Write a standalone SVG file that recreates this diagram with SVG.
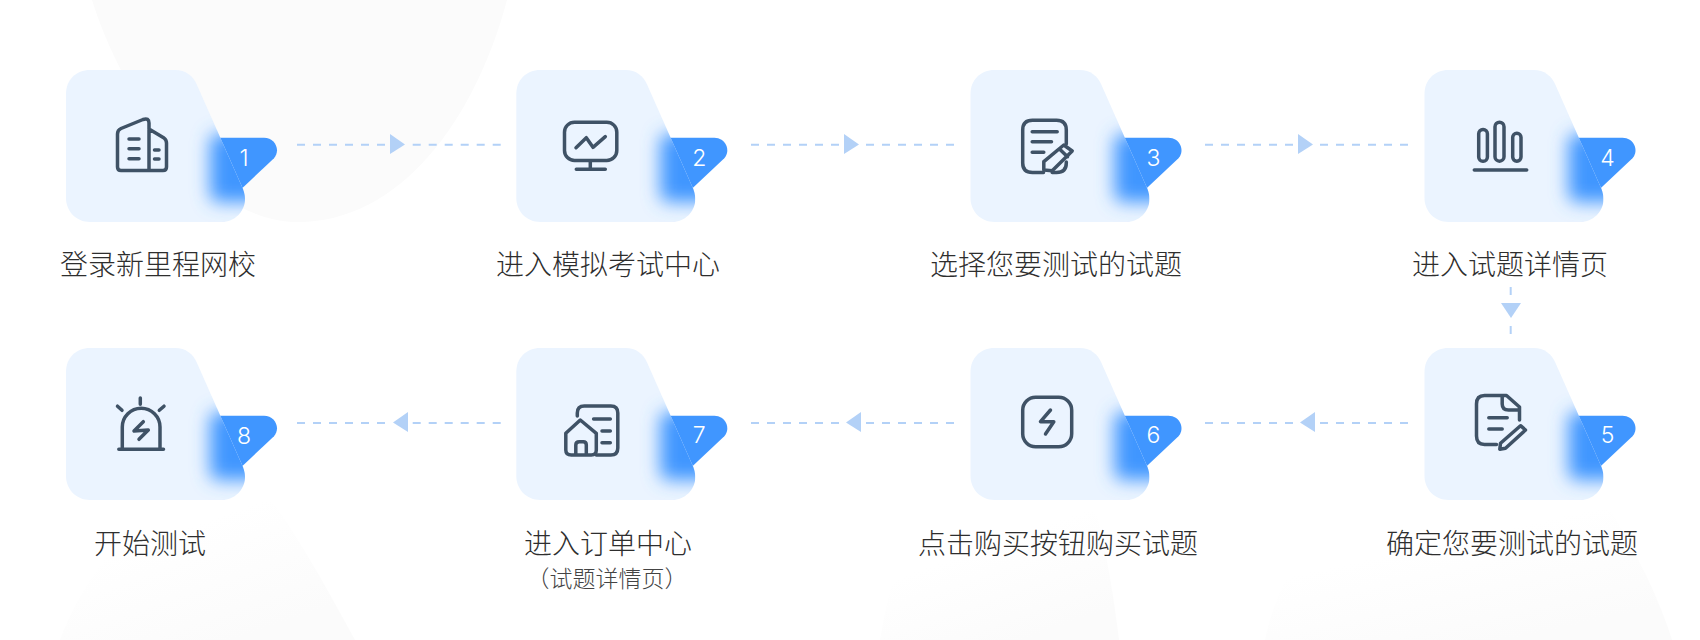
<svg xmlns="http://www.w3.org/2000/svg" width="1700" height="640" viewBox="0 0 1700 640">
<style>
.lbl{font-family:"Noto Sans CJK SC","Noto Sans",sans-serif;font-weight:300;font-size:28px;fill:#2e2e2e;text-anchor:middle}
.sub{font-size:23px;fill:#444}
.num{font-family:"Inter","Noto Sans",sans-serif;font-weight:300;font-size:23px;fill:#fff;text-anchor:middle}
.ic{fill:none;stroke:#3f5266;stroke-width:3.5;stroke-linecap:round;stroke-linejoin:round}
.dash{fill:none;stroke:#b3d1f7;stroke-width:2;stroke-dasharray:8 8}
.head{fill:#b3d1f7}
.card{fill:#ebf4ff}
.flag{fill:#4096ff}
.blob{fill:#4096ff}
</style>
<defs>
<linearGradient id="fadeB" x1="0" y1="0" x2="0.6" y2="1"><stop offset="0" stop-color="#fff"/><stop offset="0.45" stop-color="#fff"/><stop offset="1" stop-color="#fbfbfb"/></linearGradient>
<path id="cardShape" d="M24 0H109C120 0 127 6 131 15L177 119C178 122 179 125 179 129C179 142 168 152 156 152H24C10 152 0 141 0 128V24C0 10 10 0 24 0Z"/>
<path id="flagShape" d="M150 67.7H198C209 67.7 215 80 208 88.3L170 124Z"/>
<clipPath id="cardClip"><use href="#cardShape"/></clipPath>
<filter id="blur" filterUnits="userSpaceOnUse" x="90" y="10" width="170" height="180"><feGaussianBlur stdDeviation="9"/></filter>
<g id="base">
<use href="#flagShape" class="flag"/>
<use href="#cardShape" class="card"/>
<g clip-path="url(#cardClip)"><rect class="blob" x="144" y="64" width="70" height="68" rx="8" filter="url(#blur)"/></g>
</g>
</defs>
<rect width="1700" height="640" fill="#fff"/>
<g id="background">
<path d="M92 0C120 90 200 222 298 222C400 222 475 120 507 0Z" fill="#fbfbfb"/>
<path d="M60 640C90 560 160 480 245 465C290 520 325 585 355 640Z" fill="url(#fadeB)"/>
<path d="M880 640C890 580 905 530 932 497L1093 500C1105 545 1113 590 1119 640Z" fill="url(#fadeB)"/>
<path d="M1265 640C1280 570 1320 510 1380 490L1604 500C1635 550 1658 595 1672 640Z" fill="url(#fadeB)"/>
</g>
<g id="connectors">
<path class="dash" d="M297 144.7H386"/><path class="dash" d="M412.7 144.7H502"/><polygon class="head" points="390,134 405,144.5 390,154"/>
<path class="dash" d="M751 144.7H840"/><path class="dash" d="M866 144.7H956"/><polygon class="head" points="844,134 859,144.5 844,154"/>
<path class="dash" d="M1205 144.7H1294"/><path class="dash" d="M1320 144.7H1410"/><polygon class="head" points="1298,134 1313,144.5 1298,154"/>
<path class="dash" d="M1510.7 287V296"/><path class="dash" d="M1510.7 326V334"/><polygon class="head" points="1501,303 1521,303 1511,318"/>
<path class="dash" d="M1205 423H1294"/><path class="dash" d="M1320 423H1410"/><polygon class="head" points="1315,412 1300,422.5 1315,432"/>
<path class="dash" d="M751 423H840"/><path class="dash" d="M866 423H956"/><polygon class="head" points="861,412 846,422.5 861,432"/>
<path class="dash" d="M297 423H386"/><path class="dash" d="M412.7 423H502"/><polygon class="head" points="408,412 393,422.5 408,432"/>
</g>
<g id="node-1"><g transform="translate(66 70)"><use href="#base"/>
<path class="ic" d="M83 100.5H55Q51.5 100.5 51.5 97V64Q51.5 60 55 58.5L77 49.5Q83 47.5 83 53V100.5M83 59L98 68Q100.5 70 100.5 73V97Q100.5 100.5 97 100.5H83M63 69H73M63 78.7H73M63 88.7H73M88.5 80H93M88.5 89H93"/>
<text class="num" x="178" y="96">1</text></g>
<text class="lbl" x="158" y="275">登录新里程网校</text></g>
<g id="node-2"><g transform="translate(516.3 70)"><use href="#base"/>
<rect class="ic" x="48.2" y="52.2" width="52.3" height="38.3" rx="10"/>
<path class="ic" d="M74 91V99.3M60 99.3H89M59.7 77.7L70 67.7L76.7 77.3L89 66.7"/>
<text class="num" x="183" y="96">2</text></g>
<text class="lbl" x="608" y="275">进入模拟考试中心</text></g>
<g id="node-3"><g transform="translate(970.5 70)"><use href="#base"/>
<path class="ic" d="M73 102.5H62Q52.2 102.5 52.2 93V60Q52.2 50.2 62 50.2H86Q95.8 50.2 95.8 60V74M95.8 92V93Q95.8 102.5 86 102.5H81.7M61.7 61.7H86.7M61.7 71.7H81M61.7 82.3H73.3"/>
<path class="ic" d="M73.3 100V91.7L93.3 75L101.7 81L81.7 100.7ZM89 79L97 86.7"/>
<text class="num" x="183" y="96">3</text></g>
<text class="lbl" x="1056" y="275">选择您要测试的试题</text></g>
<g id="node-4"><g transform="translate(1424.5 70)"><use href="#base"/>
<rect class="ic" x="54.2" y="59.5" width="8.7" height="31.7" rx="4.3"/>
<rect class="ic" x="70.5" y="52.2" width="9" height="39" rx="4.5"/>
<rect class="ic" x="88.2" y="63.2" width="8.3" height="28" rx="4.1"/>
<path class="ic" d="M49.8 100H102.2"/>
<text class="num" x="183" y="96">4</text></g>
<text class="lbl" x="1510" y="275">进入试题详情页</text></g>
<g id="node-5"><g transform="translate(1424.5 348)"><use href="#base"/>
<path class="ic" d="M72 96.5H60Q52 96.5 52 88V56Q52 47.5 60 47.5H82L95 59V72M77.7 48V56Q77.7 62 84 62H95M64.3 69.7H82.7M64.3 81H77.7"/>
<path class="ic" d="M75.3 101.3L76 95.3L96 77.7L101 82L81 100.3Z"/>
<text class="num" x="183" y="95">5</text></g>
<text class="lbl" x="1512" y="553.5">确定您要测试的试题</text></g>
<g id="node-6"><g transform="translate(970.5 348)"><use href="#base"/>
<rect class="ic" x="52.2" y="49.2" width="49" height="49.6" rx="13"/>
<path class="ic" d="M80 62L70 73.7H83.3L75 86"/>
<text class="num" x="183" y="95">6</text></g>
<text class="lbl" x="1058" y="553.5">点击购买按钮购买试题</text></g>
<g id="node-7"><g transform="translate(516.3 348)"><use href="#base"/>
<path class="ic" d="M61 68V65Q61 58 68 58H94.5Q101.5 58 101.5 65V100Q101.5 107 94.5 107H80M77.3 71H94M85.7 83H94M85.7 94.7H94"/>
<path class="ic" d="M64 72L49.5 85.3V102Q49.5 107 55 107H75Q80 107 80 102V85.3ZM59.5 107V97Q59.5 93.7 63 93.7H67Q70 93.7 70 97V107"/>
<text class="num" x="183" y="95">7</text></g>
<text class="lbl" x="608" y="553.5">进入订单中心</text>
<text class="lbl sub" x="607" y="586.5">（试题详情页）</text></g>
<g id="node-8"><g transform="translate(66 348)"><use href="#base"/>
<path class="ic" d="M56.3 101V79A18.8 18.8 0 0 1 94 79V101M52.8 101.3H97.5M74.3 50V56.3M51.5 58.2L56 62.3M98 58.2L93.3 62.3"/>
<path class="ic" d="M77.3 73.7L68 83L82.3 82L73 91.3"/>
<text class="num" x="178" y="96">8</text></g>
<text class="lbl" x="150" y="553.5">开始测试</text></g>
</svg>
